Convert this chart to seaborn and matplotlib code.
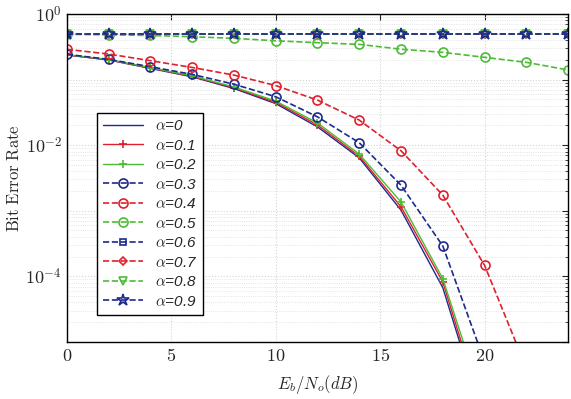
import numpy as np
import pandas as pd
import matplotlib
matplotlib.use("Agg")
import matplotlib.pyplot as plt
import matplotlib.ticker as mticker
import seaborn as sns

nan = np.nan

# Eb/No points (dB)
snr = [0, 2, 4, 6, 8, 10, 12, 14, 16, 18, 20, 22, 24]

# BER values
ber_a00 = [0.237, 0.199, 0.148, 0.110, 0.073, 0.043, 0.0190, 6.4e-3, 1.02e-3, 6.7e-5, 6e-7, nan, nan]
ber_a01 = [0.238, 0.200, 0.150, 0.112, 0.075, 0.045, 0.0203, 6.8e-3, 1.15e-3, 8.2e-5, 7e-7, nan, nan]
ber_a02 = [0.240, 0.202, 0.152, 0.114, 0.077, 0.047, 0.0218, 7.3e-3, 1.36e-3, 9.2e-5, 1e-6, nan, nan]
ber_a03 = [0.243, 0.203, 0.157, 0.120, 0.085, 0.0547, 0.027, 0.0109, 2.45e-3, 2.9e-4, 5e-6, nan, nan]
ber_a04 = [0.289, 0.245, 0.194, 0.153, 0.117, 0.081, 0.0486, 0.0241, 8.2e-3, 1.73e-3, 1.47e-4, 4e-6, nan]
ber_a05 = [0.49, 0.48, 0.47, 0.45, 0.425, 0.39, 0.365, 0.344, 0.29, 0.26, 0.218, 0.183, 0.14]
ber_a06 = [0.5, 0.5, 0.5, 0.5, 0.5, 0.5, 0.5, 0.5, 0.5, 0.5, 0.5, 0.5, 0.5]
ber_a07 = [0.5, 0.5, 0.5, 0.5, 0.5, 0.5, 0.5, 0.5, 0.5, 0.5, 0.5, 0.5, 0.5]
ber_a08 = [0.5, 0.5, 0.5, 0.5, 0.5, 0.5, 0.5, 0.5, 0.5, 0.5, 0.5, 0.5, 0.5]
ber_a09 = [0.5, 0.5, 0.5, 0.5, 0.5, 0.5, 0.5, 0.5, 0.5, 0.5, 0.5, 0.5, 0.5]

labels = ["0", "0.1", "0.2", "0.3", "0.4", "0.5", "0.6", "0.7", "0.8", "0.9"]
series = [ber_a00, ber_a01, ber_a02, ber_a03, ber_a04,
          ber_a05, ber_a06, ber_a07, ber_a08, ber_a09]

blue = "#1c2a8c"
red = "#e0202c"
green = "#4cbc34"
# colour, linestyle, marker, marker size
styles = [
    (blue, "-", None, 0),
    (red, "-", "+", 6),
    (green, "-", "+", 6),
    (blue, "--", "o", 6.5),
    (red, "--", "o", 6.5),
    (green, "--", "o", 6.5),
    (blue, "--", "s", 4.5),
    (red, "--", "D", 4.5),
    (green, "--", "v", 5.5),
    (blue, "--", "*", 9),
]

sns.set_style("white")
plt.rcParams["mathtext.fontset"] = "cm"
plt.rcParams["font.family"] = ["DejaVu Serif"]

fig = plt.figure(figsize=(5.71, 3.99), dpi=100)
ax = fig.add_axes([0.117, 0.143, 0.878, 0.822])

for lab, vals, (col, ls, mk, ms) in zip(labels, series, styles):
    kw = dict(color=col, linestyle=ls, linewidth=1.0 if ls == "-" else 1.2)
    if mk is not None:
        kw.update(marker=mk, markersize=ms, markerfacecolor="none",
                  markeredgecolor=col, markeredgewidth=1.2)
    sns.lineplot(x=snr, y=vals, ax=ax, label=r"$\alpha$=" + lab, **kw)

ax.set_yscale("log")
ax.set_xlim(0, 24)
ax.set_ylim(1e-5, 1)

ax.xaxis.set_major_locator(mticker.FixedLocator([0, 5, 10, 15, 20]))
ax.xaxis.set_major_formatter(mticker.FuncFormatter(lambda v, p: f"${v:g}$"))
ax.yaxis.set_major_locator(mticker.LogLocator(base=10, numticks=10))
ax.yaxis.set_minor_locator(mticker.LogLocator(base=10, subs=np.arange(2, 10), numticks=10))


def ylab(v, p):
    e = int(round(np.log10(v)))
    if e % 2 == 0:
        return r"$10^{%d}$" % e
    return ""


ax.yaxis.set_major_formatter(mticker.FuncFormatter(ylab))
ax.yaxis.set_minor_formatter(mticker.NullFormatter())

ax.tick_params(axis="both", which="both", direction="in", right=True, top=True,
               labelsize=13)
ax.tick_params(axis="both", which="major", length=4)
ax.tick_params(axis="both", which="minor", length=2)

ax.grid(True, which="major", color="#d4d4d4", linestyle=":", linewidth=0.8)
ax.grid(True, which="minor", axis="y", color="#dcdcdc", linestyle=":", linewidth=0.6)
ax.grid(False, which="minor", axis="x")

for s in ax.spines.values():
    s.set_color("black")
    s.set_linewidth(1.0)

ax.set_xlabel(r"$E_b/N_o(dB)$", fontsize=12, labelpad=6)
ax.set_ylabel(r"$\mathrm{Bit\ Error\ Rate}$", fontsize=12, labelpad=2)

leg = ax.legend(loc="upper left", bbox_to_anchor=(0.06, 0.698), frameon=True,
                fancybox=False, edgecolor="black", framealpha=1, borderaxespad=0,
                prop={"family": "Liberation Sans", "style": "italic", "size": 11},
                handlelength=2.6, labelspacing=0.36, borderpad=0.4)
leg.get_frame().set_linewidth(1.0)

fig.savefig("out.png", dpi=100)
